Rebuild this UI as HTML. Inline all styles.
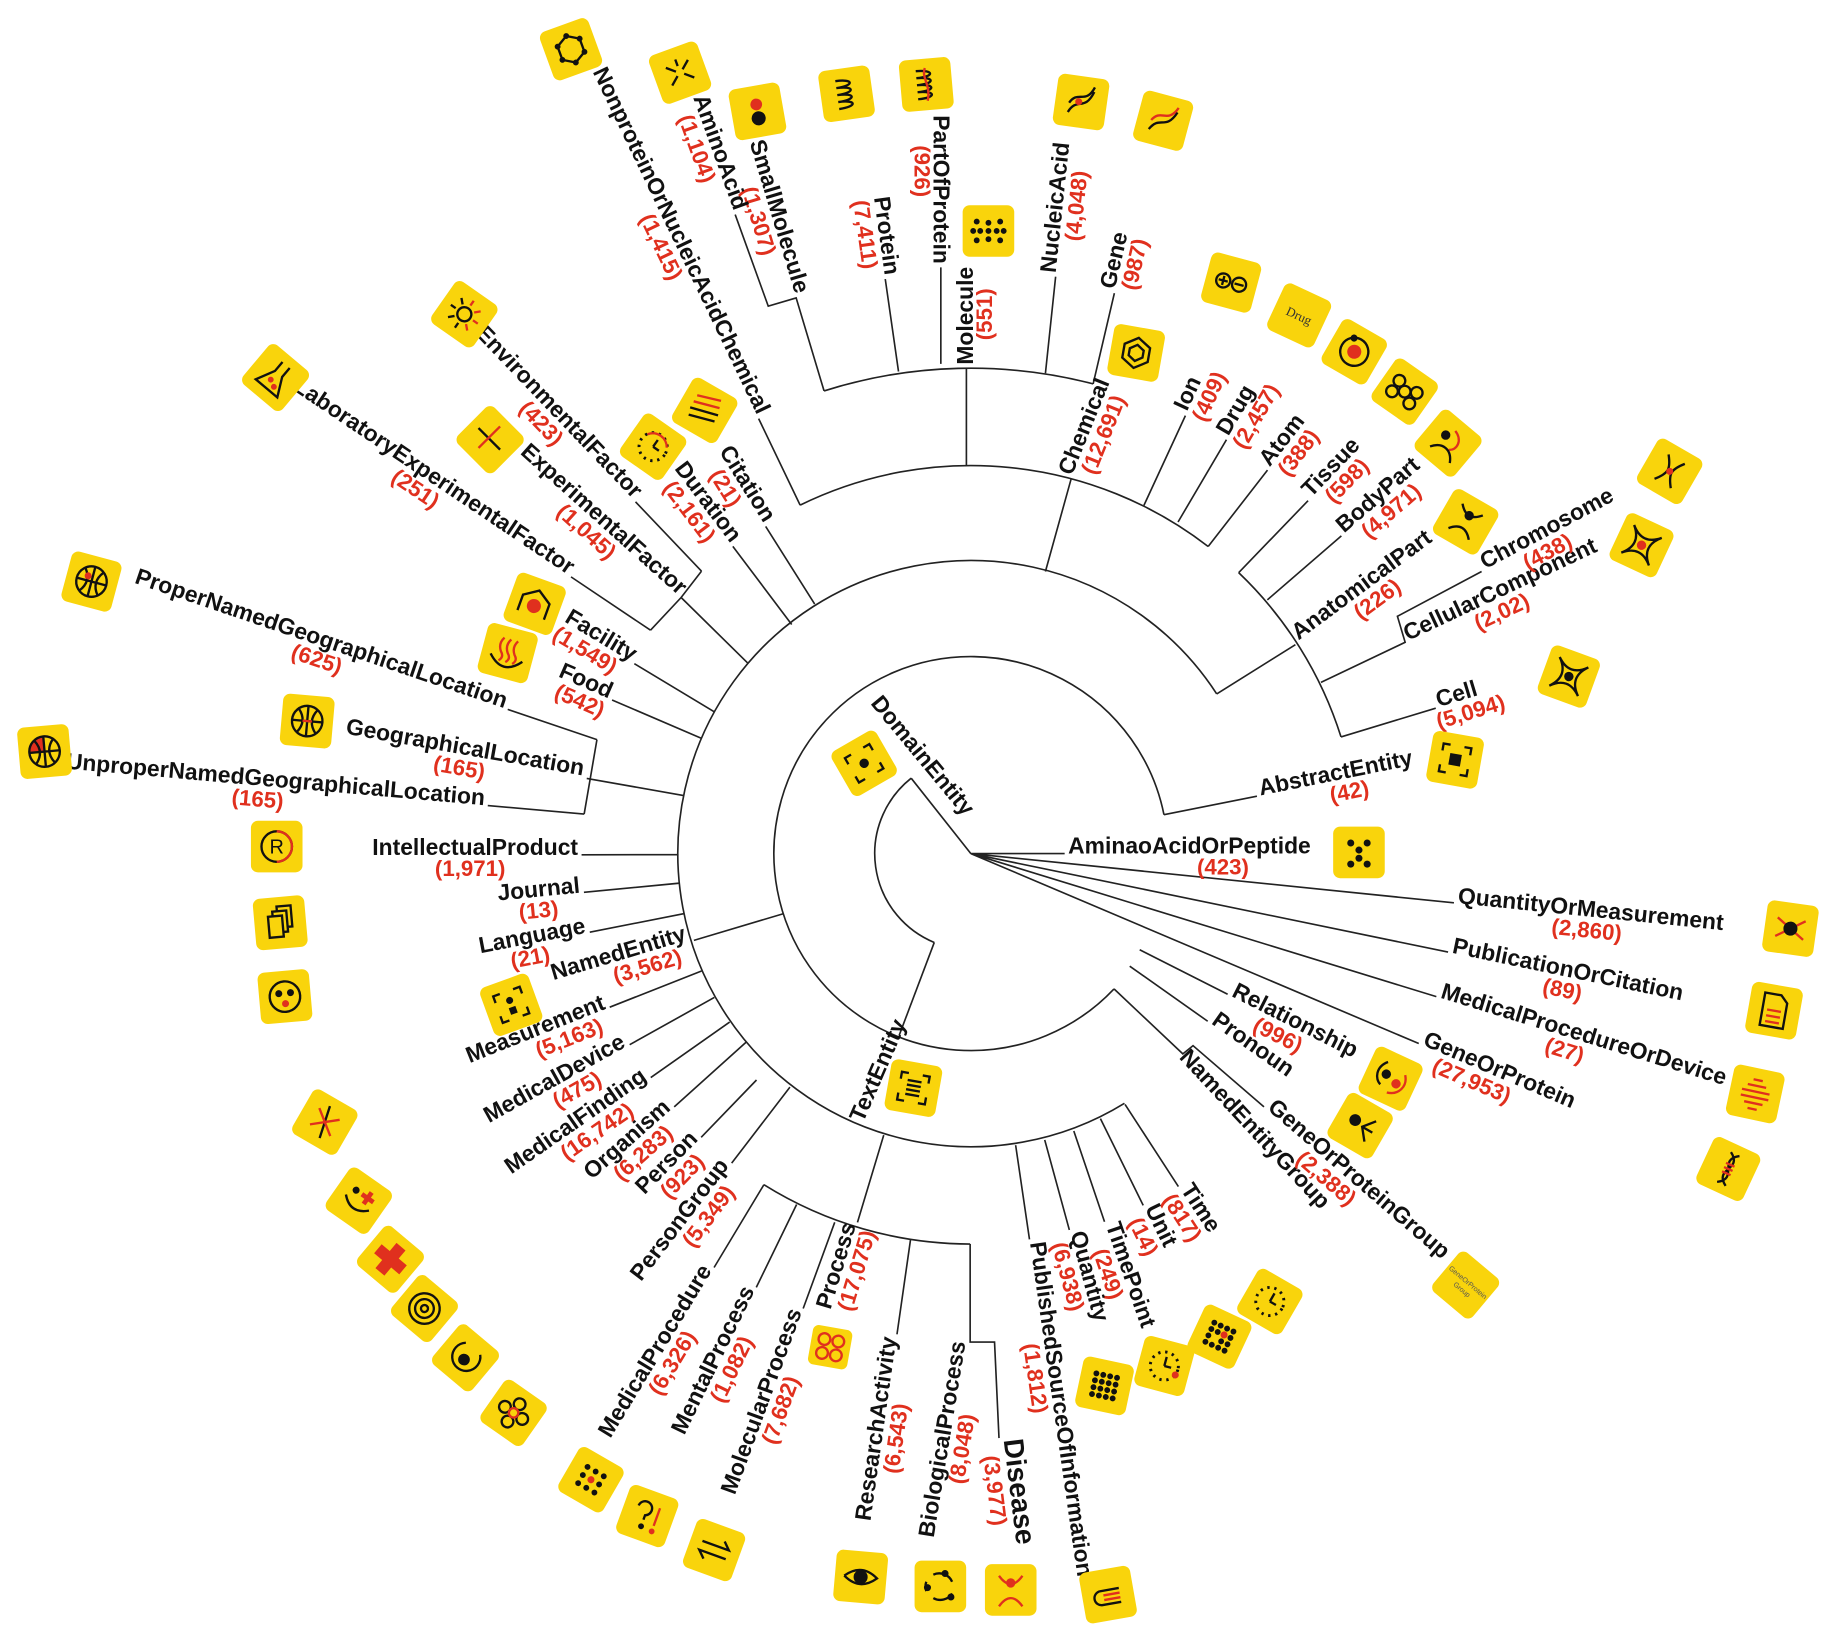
<!DOCTYPE html>
<html><head><meta charset="utf-8"><style>
html,body{margin:0;padding:0;background:#fff}
svg{display:block}
.l{font-family:"Liberation Sans",Arial,sans-serif;font-weight:bold;font-size:19.5px;fill:#111}
.c{font-family:"Liberation Sans",Arial,sans-serif;font-weight:bold;font-size:19px;fill:#E0301E;text-anchor:middle}
.s{fill:none;stroke:#222;stroke-width:1.4}
.y{fill:#F9D40C}
.k{fill:none;stroke:#111;stroke-width:2}
.r{fill:none;stroke:#E0301E;stroke-width:2}
</style></head><body>
<svg width="1837" height="1638" viewBox="0 0 1566.7 1397" xmlns="http://www.w3.org/2000/svg">
<rect width="1566.7" height="1397" fill="#fff"/>
<g class="s">
<path d="M 796.8,803.8 A 82 82 0 0 1 777.1,663.7"/>
<path d="M 950.1,843.4 A 168 168 0 1 1 992.7,694.8"/>
<path d="M 959,941 A 250 250 0 1 1 1037.7,591.8"/>
<path d="M 682.4,430.8 A 331 331 0 0 1 1030.4,466.1"/>
<path d="M 702.8,333.4 A 414 414 0 0 1 932.3,327.4"/>
<path d="M 1056.4,488.4 A 331 331 0 0 1 1143.7,628.5"/>
<path d="M 827.4,1061 A 333 333 0 0 1 651.5,1010.4"/>
<path d="M828,728 L777.1,663.7 M828,728 L908,728 M828,728 L1240,770 M828,728 L1235,812 M828,728 L1225,850 M828,728 L1210,890"/>
<path d="M796.8,803.8 L766.8,883.2"/>
<path d="M992.7,694.8 L1072,679 M972,810 L1047,848 M963.5,824 L1030,871 M950.1,843.4 L1008.8,898.8 L1017.5,891.8 L1078,944 M668,779.3 L591.8,802"/>
<path d="M959.5,941.9 L1005,1012 M938.5,954 L975,1028 M915.8,964.6 L942,1042 M891,972.2 L912,1049 M866.2,976.7 L878,1057"/>
<path d="M753.7,968.1 L731.3,1042.5 M651.5,1010.4 L609,1081 M679.4,1027.3 L645,1098 M711.9,1042.5 L685,1116 M776.5,1057.6 L765,1138 M827.4,1061 L827.4,1144.6 L848.2,1144.6 L852,1226.5"/>
<path d="M673.7,927.2 L624,992 M645.2,921.1 L598,970 M636.5,888.7 L575,944 M622.3,871.7 L555,919 M609.2,850.7 L537,891 M598.3,828.1 L520,859 M583.1,779.3 L503,795 M578.7,753.3 L498,761 M578.7,728.9 L496,729"/>
<path d="M583.1,678.5 L500.4,663.9 M509.1,630.8 L498.2,694.3 M509.1,630.8 L433,605 M498.2,694.3 L416,687"/>
<path d="M598.3,629.7 L522,597 M609,607 L541,566 M637.5,565.3 L580.9,509.6 M598.3,487.1 L580.9,509.6 L554.8,537.5 M598.3,487.1 L542,428 M554.8,537.5 L487,492"/>
<path d="M675.2,532.6 L625,466 M694.8,515.2 L653,449"/>
<path d="M891.6,487.4 L913.4,408.9 M682.4,430.8 L647,357 M824.2,396.8 L824.2,314.3"/>
<path d="M702.8,333.4 L679,254.1 L655.2,261.1 L627,183 M766.3,316.8 L755,238 M802.4,310.3 L802.4,228 M891.6,318.4 L900.3,236 M932.3,327.4 L950.4,250"/>
<path d="M975.6,431 L1011,354.5 M1004.7,445.2 L1046,375 M1030.4,466.1 L1081,401"/>
<path d="M1037.7,591.8 L1104.8,549.8 M1056.4,488.4 L1115.6,427 M1080.9,511.6 L1144,457 M1126.6,582 L1198.4,547.8 L1191.8,525.6 L1263.6,487.4 M1143.7,628.5 L1224.5,604"/>
</g>

<g transform="translate(908,728)"><text class="l" x="3">AminaoAcidOrPeptide</text><text class="c" x="135" y="18">(423)</text></g>
<g transform="translate(1240,770) rotate(5.8)"><text class="l" x="3">QuantityOrMeasurement</text><text class="c" x="115" y="18">(2,860)</text></g>
<g transform="translate(1235,812) rotate(11.7)"><text class="l" x="3">PublicationOrCitation</text><text class="c" x="102" y="18">(89)</text></g>
<g transform="translate(1225,850) rotate(17.1)"><text class="l" x="3">MedicalProcedureOrDevice</text><text class="c" x="118" y="18">(27)</text></g>
<g transform="translate(1210,890) rotate(23)"><text class="l" x="3">GeneOrProtein</text><text class="c" x="54" y="18">(27,953)</text></g>
<g transform="translate(1047,848) rotate(26.9)"><text class="l" x="3">Relationship</text><text class="c" x="54" y="18">(996)</text></g>
<g transform="translate(1030,871) rotate(35.2)"><text class="l" x="3">Pronoun</text></g>
<g transform="translate(1003,900) rotate(47)"><text class="l" x="3">NamedEntityGroup</text></g>
<g transform="translate(1078,944) rotate(40.7)"><text class="l" x="3">GeneOrProteinGroup</text><text class="c" x="80" y="18">(2,388)</text></g>
<g transform="translate(1005,1012) rotate(57.1)"><text class="l" x="3">Time</text><text class="c" x="24" y="18">(817)</text></g>
<g transform="translate(975,1028) rotate(63.9)"><text class="l" x="3">Unit</text><text class="c" x="24" y="18">(14)</text></g>
<g transform="translate(942,1042) rotate(70.9)"><text class="l" x="3">TimePoint</text><text class="c" x="43" y="18">(249)</text></g>
<g transform="translate(912,1049) rotate(74.8)"><text class="l" x="3">Quantity</text><text class="c" x="38" y="18">(6,938)</text></g>
<g transform="translate(878,1057) rotate(81.9)"><text class="l" x="3">PublishedSourceOfInformation</text><text class="c" x="118" y="18">(1,812)</text></g>
<g transform="translate(856,1228) rotate(83)"><text class="l" x="0" style="font-size:24px">Disease</text><text class="c" x="42" y="19">(3,977)</text></g>
<g transform="translate(913,409) rotate(-68)"><text class="l" x="3">Chemical</text><text class="c" x="46" y="18">(12,691)</text></g>
<g transform="translate(1011,354) rotate(-65)"><text class="l" x="3">Ion</text><text class="c" x="23" y="18">(409)</text></g>
<g transform="translate(1046,375) rotate(-59.6)"><text class="l" x="3">Drug</text><text class="c" x="30" y="18">(2,457)</text></g>
<g transform="translate(1081,401) rotate(-52.2)"><text class="l" x="3">Atom</text><text class="c" x="28" y="18">(388)</text></g>
<g transform="translate(1116,427) rotate(-46)"><text class="l" x="3">Tissue</text><text class="c" x="35" y="18">(598)</text></g>
<g transform="translate(1144,457) rotate(-40.8)"><text class="l" x="3">BodyPart</text><text class="c" x="46" y="18">(4,971)</text></g>
<g transform="translate(1105,548) rotate(-36.5)"><text class="l" x="3">AnatomicalPart</text><text class="c" x="78" y="18">(226)</text></g>
<g transform="translate(1198,548) rotate(-25.3)"><text class="l" x="3">CellularComponent</text><text class="c" x="86" y="18">(2,02)</text></g>
<g transform="translate(1264,487) rotate(-28)"><text class="l" x="3">Chromosome</text><text class="c" x="57" y="18">(438)</text></g>
<g transform="translate(1224,604) rotate(-16.8)"><text class="l" x="3">Cell</text><text class="c" x="28" y="18">(5,094)</text></g>
<g transform="translate(1072,679) rotate(-11.3)"><text class="l" x="3">AbstractEntity</text><text class="c" x="78" y="18">(42)</text></g>
<g transform="translate(824,314) rotate(-90)"><text class="l" x="3" y="6">Molecule</text><text class="c" x="46" y="22">(551)</text></g>
<g transform="translate(900,236) rotate(-84)"><text class="l" x="3">NucleicAcid</text><text class="c" x="62" y="18">(4,048)</text></g>
<g transform="translate(950,250) rotate(-76.9)"><text class="l" x="3">Gene</text><text class="c" x="28" y="18">(987)</text></g>

<g text-anchor="end">
<g transform="translate(731,1042) rotate(-73.2)"><text class="l" x="-3">Process</text><text class="c" x="-40" y="18">(17,075)</text></g>
<g transform="translate(609,1081) rotate(-58.8)"><text class="l" x="-3">MedicalProcedure</text><text class="c" x="-88" y="18">(6,326)</text></g>
<g transform="translate(645,1098) rotate(-64.1)"><text class="l" x="-3">MentalProcess</text><text class="c" x="-72" y="18">(1,082)</text></g>
<g transform="translate(685,1116) rotate(-69.9)"><text class="l" x="-3">MolecularProcess</text><text class="c" x="-88" y="18">(7,682)</text></g>
<g transform="translate(765,1138) rotate(-81.9)"><text class="l" x="-3">ResearchActivity</text><text class="c" x="-88" y="18">(6,543)</text></g>
<g transform="translate(824,1142) rotate(-80.7)"><text class="l" x="-3">BiologicalProcess</text><text class="c" x="-93" y="18">(8,048)</text></g>
<g transform="translate(624,992) rotate(-52.7)"><text class="l" x="-3">PersonGroup</text><text class="c" x="-48" y="18">(5,349)</text></g>
<g transform="translate(598,970) rotate(-45.6)"><text class="l" x="-3">Person</text><text class="c" x="-35" y="18">(923)</text></g>
<g transform="translate(575,944) rotate(-41.7)"><text class="l" x="-3">Organism</text><text class="c" x="-46" y="18">(6,283)</text></g>
<g transform="translate(555,919) rotate(-34.8)"><text class="l" x="-3">MedicalFinding</text><text class="c" x="-64" y="18">(16,742)</text></g>
<g transform="translate(537,891) rotate(-29.2)"><text class="l" x="-3">MedicalDevice</text><text class="c" x="-58" y="18">(475)</text></g>
<g transform="translate(520,859) rotate(-21.8)"><text class="l" x="-3">Measurement</text><text class="c" x="-42" y="18">(5,163)</text></g>
<g transform="translate(589,801) rotate(-16.6)"><text class="l" x="-3">NamedEntity</text><text class="c" x="-42" y="18">(3,562)</text></g>
<g transform="translate(503,795) rotate(-10.9)"><text class="l" x="-3">Language</text><text class="c" x="-54" y="18">(21)</text></g>
<g transform="translate(498,761) rotate(-5.5)"><text class="l" x="-3">Journal</text><text class="c" x="-40" y="18">(13)</text></g>
<g transform="translate(496,729)"><text class="l" x="-3">IntellectualProduct</text><text class="c" x="-95" y="18">(1,971)</text></g>
<g transform="translate(500,662) rotate(10)"><text class="l" x="-3">GeographicalLocation</text><text class="c" x="-108" y="18">(165)</text></g>
<g transform="translate(433,605) rotate(18.7)"><text class="l" x="-3">ProperNamedGeographicalLocation</text><text class="c" x="-168" y="18">(625)</text></g>
<g transform="translate(416,687) rotate(5)"><text class="l" x="-3">UnproperNamedGeographicalLocation</text><text class="c" x="-196" y="18">(165)</text></g>
<g transform="translate(522,597) rotate(23.5)"><text class="l" x="-3">Food</text><text class="c" x="-25" y="18">(542)</text></g>
<g transform="translate(541,566) rotate(31)"><text class="l" x="-3">Facility</text><text class="c" x="-42" y="18">(1,549)</text></g>
<g transform="translate(581,510) rotate(41.8)"><text class="l" x="-3">ExperimentalFactor</text><text class="c" x="-98" y="18">(1,045)</text></g>
<g transform="translate(542,428) rotate(46.2)"><text class="l" x="-3">EnvironmentalFactor</text><text class="c" x="-104" y="18">(423)</text></g>
<g transform="translate(487,492) rotate(33.9)"><text class="l" x="-3">LaboratoryExperimentalFactor</text><text class="c" x="-152" y="18">(251)</text></g>
<g transform="translate(625,466) rotate(52.9)"><text class="l" x="-3">Duration</text><text class="c" x="-46" y="18">(2,161)</text></g>
<g transform="translate(653,449) rotate(58)"><text class="l" x="-3">Citation</text><text class="c" x="-46" y="18">(21)</text></g>
<g transform="translate(647,357) rotate(64.4)"><text class="l" x="-3">NonproteinOrNucleicAcidChemical</text><text class="c" x="-168" y="18">(1,415)</text></g>
<g transform="translate(679,254) rotate(73.3)"><text class="l" x="-3">SmallMolecule</text><text class="c" x="-72" y="18">(1,307)</text></g>
<g transform="translate(627,183) rotate(70.2)"><text class="l" x="-3">AminoAcid</text><text class="c" x="-64" y="18">(1,104)</text></g>
<g transform="translate(755,238) rotate(82.1)"><text class="l" x="-3">Protein</text><text class="c" x="-40" y="18">(7,411)</text></g>
<g transform="translate(802,228) rotate(90)"><text class="l" x="-3" y="6">PartOfProtein</text><text class="c" x="-82" y="22">(926)</text></g>
</g>
<g transform="translate(742,600) rotate(50.4)"><text class="l">DomainEntity</text></g>
<g transform="translate(736,958) rotate(-66.5)"><text class="l">TextEntity</text></g>

<g>
<g transform="translate(487,42) rotate(-20)"><rect class="y" x="-22" y="-22" width="44" height="44" rx="6"/><polygon class="k" points="0,-12 10,-6 10,6 0,12 -10,6 -10,-6"/><g fill="#111"><circle cx="0" cy="-12" r="2.5"/><circle cx="10" cy="-6" r="2.5"/><circle cx="10" cy="6" r="2.5"/><circle cx="0" cy="12" r="2.5"/><circle cx="-10" cy="6" r="2.5"/><circle cx="-10" cy="-6" r="2.5"/></g></g>
<g transform="translate(580,62) rotate(-20)"><rect class="y" x="-22" y="-22" width="44" height="44" rx="6"/><path class="k" d="M-10,-8 L-3,-2 M10,-8 L3,-2 M-10,8 L-3,2 M10,8 L3,2 M0,-12 L0,-6"/></g>
<g transform="translate(646,95) rotate(-10)"><rect class="y" x="-22" y="-22" width="44" height="44" rx="6"/><circle cx="0" cy="-6" r="5" fill="#E0301E"/><circle cx="0" cy="6" r="6" fill="#111"/></g>
<g transform="translate(722,80) rotate(-8)"><rect class="y" x="-22" y="-22" width="44" height="44" rx="6"/><path class="k" d="M-8,-12 C8,-12 8,-6 -8,-6 C8,-6 8,0 -8,0 C8,0 8,6 -8,6 C8,6 8,12 -8,12"/></g>
<g transform="translate(790,72) rotate(-5)"><rect class="y" x="-22" y="-22" width="44" height="44" rx="6"/><path class="k" d="M-8,-12 C8,-12 8,-6 -8,-6 C8,-6 8,0 -8,0 C8,0 8,6 -8,6 C8,6 8,12 -8,12"/><path class="r" d="M0,-14 C-4,-6 4,0 0,14"/></g>
<g transform="translate(843,197)"><rect class="y" x="-22" y="-22" width="44" height="44" rx="6"/><g fill="#111"><circle cx="0" cy="0" r="2.5"/><circle cx="7" cy="0" r="2.5"/><circle cx="-7" cy="0" r="2.5"/><circle cx="0" cy="7" r="2.5"/><circle cx="0" cy="-7" r="2.5"/><circle cx="10" cy="8" r="2.5"/><circle cx="-10" cy="8" r="2.5"/><circle cx="10" cy="-8" r="2.5"/><circle cx="-10" cy="-8" r="2.5"/><circle cx="13" cy="0" r="2.5"/><circle cx="-13" cy="0" r="2.5"/></g></g>
<g transform="translate(922,87) rotate(8)"><rect class="y" x="-22" y="-22" width="44" height="44" rx="6"/><path class="k" d="M-10,10 C-4,-4 4,8 10,-10 M-10,2 C-4,-10 4,2 10,-14"/><circle cx="-2" cy="0" r="3" fill="#E0301E"/></g>
<g transform="translate(992,103) rotate(15)"><rect class="y" x="-22" y="-22" width="44" height="44" rx="6"/><path class="k" d="M-10,10 C-4,-4 4,8 10,-10"/><path class="r" d="M-10,2 C-4,-10 4,2 10,-14"/></g>
<g transform="translate(1050,241) rotate(15)"><rect class="y" x="-22" y="-22" width="44" height="44" rx="6"/><circle class="k" cx="-7" cy="0" r="6"/><circle class="k" cx="7" cy="0" r="6"/><path class="k" d="M-11,0 H-3 M-7,-4 V4 M3,0 H11"/></g>
<g transform="translate(1108,269) rotate(25)"><rect class="y" x="-22" y="-22" width="44" height="44" rx="6"/><text x="0" y="4" font-family="Liberation Serif,serif" font-size="11" text-anchor="middle" fill="#333">Drug</text></g>
<g transform="translate(1155,300) rotate(30)"><rect class="y" x="-22" y="-22" width="44" height="44" rx="6"/><circle class="k" cx="0" cy="0" r="12"/><circle cx="0" cy="0" r="6" fill="#E0301E"/><circle cx="-6" cy="-10" r="3" fill="#111"/></g>
<g transform="translate(1198,334) rotate(35)"><rect class="y" x="-22" y="-22" width="44" height="44" rx="6"/><circle class="k" cx="0" cy="0" r="5"/><circle class="k" cx="-9" cy="-5" r="5"/><circle class="k" cx="9" cy="-5" r="5"/><circle class="k" cx="-9" cy="6" r="5"/><circle class="k" cx="9" cy="6" r="5"/></g>
<g transform="translate(1235,378) rotate(40)"><rect class="y" x="-22" y="-22" width="44" height="44" rx="6"/><circle cx="-6" cy="-4" r="4" fill="#111"/><path class="r" d="M-2,-12 C8,-10 10,0 4,4"/><path class="k" d="M-10,12 C-4,2 6,2 12,12"/></g>
<g transform="translate(1424,402) rotate(30)"><rect class="y" x="-22" y="-22" width="44" height="44" rx="6"/><path class="k" d="M-8,-12 C0,-2 0,2 -8,12 M8,-12 C0,-2 0,2 8,12"/><circle cx="0" cy="0" r="3" fill="#E0301E"/></g>
<g transform="translate(1400,465) rotate(25)"><rect class="y" x="-22" y="-22" width="44" height="44" rx="6"/><path class="k" d="M-13,-13 Q0,0 13,-13 Q0,0 13,13 Q0,0 -13,13 Q0,0 -13,-13"/><circle cx="0" cy="0" r="4" fill="#E0301E"/></g>
<g transform="translate(1250,445) rotate(30)"><rect class="y" x="-22" y="-22" width="44" height="44" rx="6"/><circle cx="0" cy="-6" r="4" fill="#111"/><path class="k" d="M-10,-12 Q0,0 10,-12 M-10,12 Q0,0 10,12"/></g>
<g transform="translate(1338,577) rotate(20)"><rect class="y" x="-22" y="-22" width="44" height="44" rx="6"/><path class="k" d="M-13,-13 Q0,0 13,-13 Q0,0 13,13 Q0,0 -13,13 Q0,0 -13,-13"/><circle cx="0" cy="0" r="4" fill="#111"/></g>
<g transform="translate(1241,648) rotate(10)"><rect class="y" x="-22" y="-22" width="44" height="44" rx="6"/><path class="k" d="M-12,-6 V-12 H-6 M6,-12 H12 V-6 M12,6 V12 H6 M-6,12 H-12 V6"/><rect x="-5" y="-5" width="10" height="10" fill="#111"/></g>
<g transform="translate(1159,727)"><rect class="y" x="-22" y="-22" width="44" height="44" rx="6"/><g fill="#111"><circle cx="-7" cy="-8" r="3"/><circle cx="7" cy="-8" r="3"/><circle cx="0" cy="-2" r="3"/><circle cx="0" cy="5" r="3"/><circle cx="-7" cy="10" r="3"/><circle cx="7" cy="10" r="3"/></g></g>
<g transform="translate(1527,792) rotate(8)"><rect class="y" x="-22" y="-22" width="44" height="44" rx="6"/><path class="r" d="M-12,-8 L12,8 M-12,8 L12,-8"/><circle cx="0" cy="0" r="6" fill="#111"/></g>
<g transform="translate(1513,862) rotate(10)"><rect class="y" x="-22" y="-22" width="44" height="44" rx="6"/><path class="k" d="M-10,-14 H4 L10,-8 V14 H-10 Z"/><path class="r" d="M-6,0 H6 M-6,5 H6 M-6,10 H6"/></g>
<g transform="translate(1497,933) rotate(12)"><rect class="y" x="-22" y="-22" width="44" height="44" rx="6"/><path class="r" d="M-4,-12 H4 M-8,-7 H8 M-12,-2 H12 M-12,3 H12 M-8,8 H8 M-4,13 H4"/></g>
<g transform="translate(1474,997) rotate(25)"><rect class="y" x="-22" y="-22" width="44" height="44" rx="6"/><path class="k" d="M-4,-14 C12,-4 -12,4 4,14 M4,-14 C-12,-4 12,4 -4,14"/><path class="r" d="M-4,-4 H4 M-4,0 H4 M-4,4 H4"/></g>
<g transform="translate(1186,920) rotate(25)"><rect class="y" x="-22" y="-22" width="44" height="44" rx="6"/><circle cx="-5" cy="-2" r="4" fill="#111"/><circle cx="6" cy="2" r="4" fill="#E0301E"/><path class="k" d="M-8,-12 C-16,-4 -12,6 -6,8"/><path class="r" d="M10,-8 C16,0 12,10 2,12"/></g>
<g transform="translate(1160,960) rotate(30)"><rect class="y" x="-22" y="-22" width="44" height="44" rx="6"/><circle cx="-6" cy="-2" r="5" fill="#111"/><path class="k" d="M10,-10 L2,0 L10,10 M2,0 H12"/></g>
<g transform="translate(1250,1096) rotate(40)"><rect class="y" x="-22" y="-22" width="44" height="44" rx="6"/><text x="0" y="-1" font-family="Liberation Sans,sans-serif" font-size="6" text-anchor="middle" fill="#555">GeneOrProtein</text><text x="0" y="7" font-family="Liberation Sans,sans-serif" font-size="6" text-anchor="middle" fill="#555">Group</text></g>
<g transform="translate(1083,1110) rotate(30)"><rect class="y" x="-22" y="-22" width="44" height="44" rx="6"/><circle cx="0" cy="0" r="12" fill="none" stroke="#111" stroke-width="2.5" stroke-dasharray="2 4"/><path class="k" d="M0,0 V-8 M0,0 H6"/></g>
<g transform="translate(1040,1140) rotate(25)"><rect class="y" x="-22" y="-22" width="44" height="44" rx="6"/><g fill="#111"><circle cx="-9" cy="-9" r="2.5"/><circle cx="-3" cy="-9" r="2.5"/><circle cx="3" cy="-9" r="2.5"/><circle cx="9" cy="-9" r="2.5"/><circle cx="-9" cy="-3" r="2.5"/><circle cx="-3" cy="-3" r="2.5"/><circle cx="9" cy="-3" r="2.5"/><circle cx="-9" cy="3" r="2.5"/><circle cx="3" cy="3" r="2.5"/><circle cx="9" cy="3" r="2.5"/><circle cx="-9" cy="9" r="2.5"/><circle cx="-3" cy="9" r="2.5"/><circle cx="3" cy="9" r="2.5"/><circle cx="9" cy="9" r="2.5"/></g><circle cx="3" cy="-3" r="3" fill="#E0301E"/></g>
<g transform="translate(993,1165) rotate(15)"><rect class="y" x="-22" y="-22" width="44" height="44" rx="6"/><circle cx="0" cy="0" r="12" fill="none" stroke="#111" stroke-width="2.5" stroke-dasharray="2 4"/><path class="k" d="M0,0 V-8 M0,0 H6"/><circle cx="11" cy="5" r="3" fill="#E0301E"/></g>
<g transform="translate(942,1182) rotate(12)"><rect class="y" x="-22" y="-22" width="44" height="44" rx="6"/><g fill="#111"><circle cx="-9" cy="-9" r="2.5"/><circle cx="-3" cy="-9" r="2.5"/><circle cx="3" cy="-9" r="2.5"/><circle cx="9" cy="-9" r="2.5"/><circle cx="-9" cy="-3" r="2.5"/><circle cx="-3" cy="-3" r="2.5"/><circle cx="3" cy="-3" r="2.5"/><circle cx="9" cy="-3" r="2.5"/><circle cx="-9" cy="3" r="2.5"/><circle cx="-3" cy="3" r="2.5"/><circle cx="3" cy="3" r="2.5"/><circle cx="9" cy="3" r="2.5"/><circle cx="-9" cy="9" r="2.5"/><circle cx="-3" cy="9" r="2.5"/><circle cx="3" cy="9" r="2.5"/><circle cx="9" cy="9" r="2.5"/></g></g>
<g transform="translate(945,1360) rotate(-10)"><rect class="y" x="-22" y="-22" width="44" height="44" rx="6"/><path class="k" d="M10,-4 H-6 A6 6 0 0 0 -6,8 H10"/><path class="r" d="M10,0 H-4 M10,4 H-4"/></g>
<g transform="translate(862,1356)"><rect class="y" x="-22" y="-22" width="44" height="44" rx="6"/><circle cx="0" cy="-6" r="4" fill="#E0301E"/><path class="r" d="M-10,-12 Q0,2 10,-12"/><path class="r" d="M-10,14 Q0,0 10,14"/></g>
<g transform="translate(802,1353)"><rect class="y" x="-22" y="-22" width="44" height="44" rx="6"/><path class="k" d="M-6,-10 A12 12 0 0 1 10,-4 M10,6 A12 12 0 0 1 -6,10 M-12,4 A12 12 0 0 1 -12,-4"/><circle cx="4" cy="-11" r="3" fill="#111"/><circle cx="9" cy="9" r="3" fill="#111"/><circle cx="-11" cy="1" r="3" fill="#111"/></g>
<g transform="translate(734,1345) rotate(5)"><rect class="y" x="-22" y="-22" width="44" height="44" rx="6"/><path class="k" d="M-14,0 Q0,-12 14,0 Q0,12 -14,0"/><circle cx="0" cy="0" r="6" fill="#111"/></g>
<g transform="translate(708,1149) rotate(10)"><rect class="y" x="-17" y="-17" width="34" height="34" rx="5"/><circle class="r" cx="-6" cy="-6" r="5"/><circle class="r" cx="6" cy="-6" r="5"/><circle class="r" cx="-6" cy="6" r="5"/><circle class="r" cx="6" cy="6" r="5"/></g>
<g transform="translate(609,1322) rotate(20)"><rect class="y" x="-22" y="-22" width="44" height="44" rx="6"/><path class="k" d="M-12,-4 H12 L6,-10 M12,4 H-12 L-6,10"/></g>
<g transform="translate(552,1293) rotate(20)"><rect class="y" x="-22" y="-22" width="44" height="44" rx="6"/><path class="k" d="M-10,-6 A6 6 0 1 1 -2,0 V4"/><circle cx="-2" cy="10" r="2.5" fill="#111"/><path class="r" d="M8,-10 V6"/><circle cx="8" cy="11" r="2.5" fill="#E0301E"/></g>
<g transform="translate(504,1262) rotate(30)"><rect class="y" x="-22" y="-22" width="44" height="44" rx="6"/><g fill="#111"><circle cx="-8" cy="-8" r="2.5"/><circle cx="0" cy="-8" r="2.5"/><circle cx="8" cy="-8" r="2.5"/><circle cx="-8" cy="0" r="2.5"/><circle cx="8" cy="0" r="2.5"/><circle cx="-8" cy="8" r="2.5"/><circle cx="0" cy="8" r="2.5"/><circle cx="8" cy="8" r="2.5"/></g><circle cx="0" cy="0" r="3" fill="#E0301E"/></g>
<g transform="translate(438,1205) rotate(35)"><rect class="y" x="-22" y="-22" width="44" height="44" rx="6"/><circle class="k" cx="0" cy="-9" r="5"/><circle class="k" cx="0" cy="9" r="5"/><circle class="k" cx="-9" cy="0" r="5"/><circle class="k" cx="9" cy="0" r="5"/><circle class="r" cx="0" cy="0" r="4"/></g>
<g transform="translate(397,1158) rotate(40)"><rect class="y" x="-22" y="-22" width="44" height="44" rx="6"/><path class="k" d="M-8,-10 A12 12 0 1 0 8,-10"/><circle cx="0" cy="2" r="5" fill="#111"/></g>
<g transform="translate(362,1116) rotate(40)"><rect class="y" x="-22" y="-22" width="44" height="44" rx="6"/><circle class="k" cx="0" cy="0" r="13"/><circle class="k" cx="0" cy="0" r="8"/><circle class="k" cx="0" cy="0" r="3"/></g>
<g transform="translate(333,1074) rotate(40)"><rect class="y" x="-22" y="-22" width="44" height="44" rx="6"/><path d="M-5,-14 H5 V-5 H14 V5 H5 V14 H-5 V5 H-14 V-5 H-5 Z" fill="#E0301E"/></g>
<g transform="translate(306,1024) rotate(35)"><rect class="y" x="-22" y="-22" width="44" height="44" rx="6"/><path class="k" d="M-12,2 Q0,14 12,2"/><circle cx="-7" cy="-6" r="3" fill="#111"/><path d="M3,-12 h4 v4 h4 v4 h-4 v4 h-4 v-4 h-4 v-4 h4 z" fill="#E0301E"/></g>
<g transform="translate(277,957) rotate(30)"><rect class="y" x="-22" y="-22" width="44" height="44" rx="6"/><path class="k" d="M-3,-14 L3,14"/><path class="r" d="M-10,-8 L10,8 M-10,8 L10,-8"/></g>
<g transform="translate(243,850) rotate(-5)"><rect class="y" x="-22" y="-22" width="44" height="44" rx="6"/><circle class="k" cx="0" cy="0" r="13"/><circle cx="-5" cy="-3" r="3" fill="#111"/><circle cx="5" cy="-3" r="3" fill="#111"/><circle cx="0" cy="6" r="3" fill="#E0301E"/></g>
<g transform="translate(239,787) rotate(-5)"><rect class="y" x="-22" y="-22" width="44" height="44" rx="6"/><rect class="k" x="-10" y="-6" width="12" height="18"/><path class="k" d="M-6,-6 V-10 H6 V8 H2 M-2,-10 V-14 H10 V4 H6"/></g>
<g transform="translate(236,722)"><rect class="y" x="-22" y="-22" width="44" height="44" rx="6"/><circle class="k" cx="0" cy="0" r="13"/><path class="r" d="M0,-13 A13 13 0 0 1 0,13"/><text x="0" y="6" font-family="Liberation Sans,sans-serif" font-size="17" text-anchor="middle" fill="#111">R</text></g>
<g transform="translate(38,641) rotate(-5)"><rect class="y" x="-22" y="-22" width="44" height="44" rx="6"/><path d="M-13,0 A13 13 0 0 1 0,-13 V0 Z" fill="#E0301E"/><circle class="k" cx="0" cy="0" r="13"/><path class="k" d="M-13,0 H13 M0,-13 V13 M-8,-10 Q0,0 -8,10 M8,-10 Q0,0 8,10"/></g>
<g transform="translate(262,615) rotate(5)"><rect class="y" x="-22" y="-22" width="44" height="44" rx="6"/><circle class="k" cx="0" cy="0" r="13"/><path class="k" d="M-13,0 H13 M0,-13 V13 M-8,-10 Q0,0 -8,10 M8,-10 Q0,0 8,10"/><path class="r" d="M-4,0 H4"/></g>
<g transform="translate(78,496) rotate(15)"><rect class="y" x="-22" y="-22" width="44" height="44" rx="6"/><circle class="k" cx="0" cy="0" r="13"/><path class="k" d="M-13,0 H13 M0,-13 V13 M-8,-10 Q0,0 -8,10 M8,-10 Q0,0 8,10"/><circle cx="-4" cy="-4" r="3" fill="#E0301E"/></g>
<g transform="translate(433,557) rotate(15)"><rect class="y" x="-22" y="-22" width="44" height="44" rx="6"/><path class="r" d="M-6,-12 Q-10,-6 -6,0 Q-2,4 -6,8 M0,-12 Q-4,-6 0,0 Q4,4 0,8 M6,-12 Q2,-6 6,0 Q10,4 6,8"/><path class="k" d="M-14,4 Q0,20 14,4"/></g>
<g transform="translate(456,515) rotate(20)"><rect class="y" x="-22" y="-22" width="44" height="44" rx="6"/><path class="k" d="M-12,10 V-4 L0,-12 L12,-4 V10"/><circle cx="0" cy="2" r="6" fill="#E0301E"/></g>
<g transform="translate(418,375) rotate(45)"><rect class="y" x="-22" y="-22" width="44" height="44" rx="6"/><path class="k" d="M-14,0 H12"/><path class="r" d="M-2,-14 V12"/></g>
<g transform="translate(235,322) rotate(40)"><rect class="y" x="-22" y="-22" width="44" height="44" rx="6"/><path class="k" d="M-4,-14 V-4 L-12,12 H12 L4,-4 V-14"/><circle cx="-2" cy="4" r="2.5" fill="#E0301E"/><circle cx="4" cy="7" r="2.5" fill="#E0301E"/></g>
<g transform="translate(396,268) rotate(35)"><rect class="y" x="-22" y="-22" width="44" height="44" rx="6"/><circle class="k" cx="0" cy="0" r="6"/><path class="r" d="M0,-14 V-9 M10,-10 L6,-6 M14,0 H9 M10,10 L6,6"/><path class="k" d="M0,14 V9 M-10,10 L-6,6 M-14,0 H-9 M-10,-10 L-6,-6"/></g>
<g transform="translate(601,350) rotate(30)"><rect class="y" x="-22" y="-22" width="44" height="44" rx="6"/><path class="r" d="M-12,-8 L8,-14 M-12,-2 L10,-8"/><path class="k" d="M-12,4 L12,-2 M-10,10 L12,4"/></g>
<g transform="translate(557,381) rotate(35)"><rect class="y" x="-22" y="-22" width="44" height="44" rx="6"/><circle cx="0" cy="0" r="12" fill="none" stroke="#111" stroke-width="2.5" stroke-dasharray="2 4"/><path class="r" d="M-10,-6 A12 12 0 0 1 10,-6"/><path class="k" d="M0,0 V-7 M0,0 H6"/></g>
<g transform="translate(969,301) rotate(10)"><rect class="y" x="-22" y="-22" width="44" height="44" rx="6"/><polygon class="k" points="0,-13 11,-6 11,6 0,13 -11,6 -11,-6"/><polygon class="k" points="0,-7 6,-3 6,3 0,7 -6,3 -6,-3"/></g>
<g transform="translate(737,651) rotate(-30)"><rect class="y" x="-22" y="-22" width="44" height="44" rx="6"/><path class="k" d="M-12,-6 V-12 H-6 M6,-12 H12 V-6 M12,6 V12 H6 M-6,12 H-12 V6"/><circle cx="0" cy="0" r="4" fill="#111"/></g>
<g transform="translate(436,857) rotate(-20)"><rect class="y" x="-22" y="-22" width="44" height="44" rx="6"/><path class="k" d="M-12,-6 V-12 H-6 M6,-12 H12 V-6 M12,6 V12 H6 M-6,12 H-12 V6"/><circle cx="0" cy="-4" r="3" fill="#111"/><rect x="-3" y="2" width="6" height="6" fill="#111"/></g>
<g transform="translate(779,928) rotate(10)"><rect class="y" x="-22" y="-22" width="44" height="44" rx="6"/><path class="k" d="M-12,-6 V-12 H-6 M6,-12 H12 V-6 M12,6 V12 H6 M-6,12 H-12 V6 M-6,-6 H6 M-6,-2 H6 M-6,2 H6 M-6,6 H6"/></g>
</g>
</svg>
</body></html>
